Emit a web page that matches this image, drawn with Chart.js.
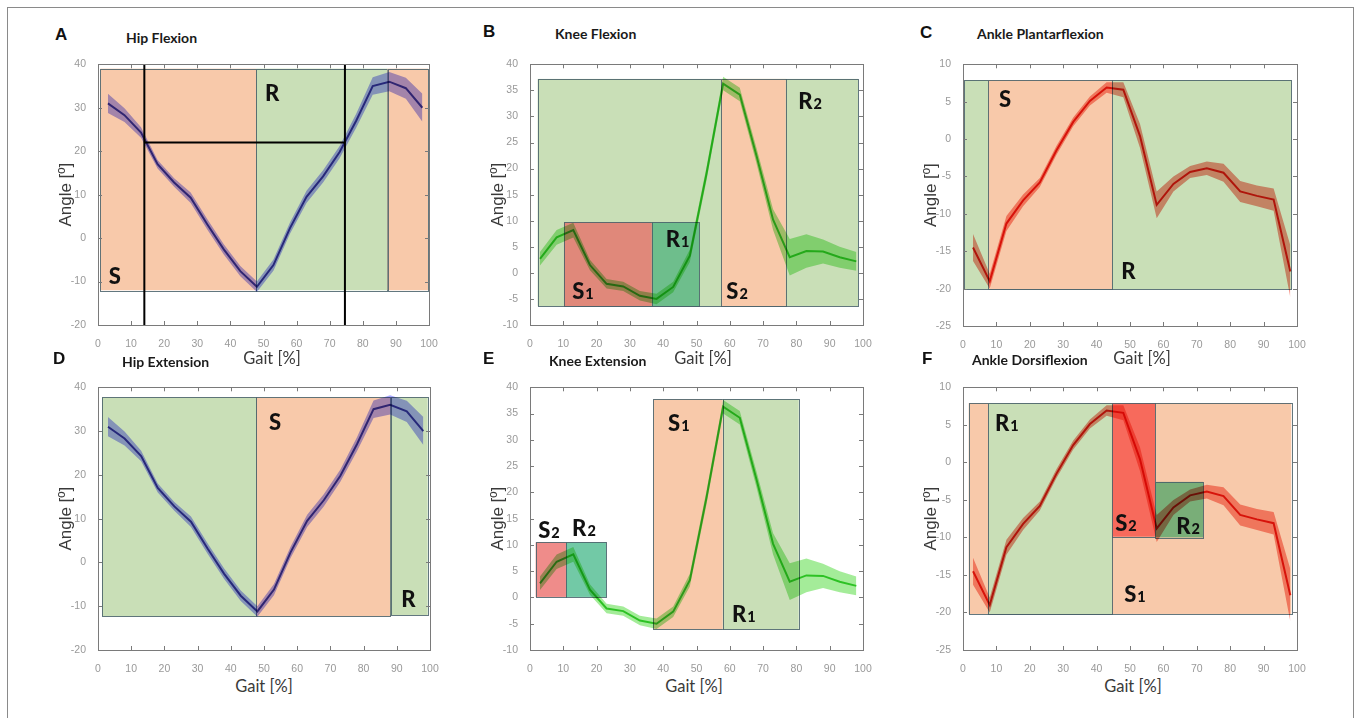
<!DOCTYPE html>
<html>
<head>
<meta charset="utf-8">
<script src="https://cdn.jsdelivr.net/npm/chart.js@4.4.1/dist/chart.umd.min.js"></script>
<style>
  body { margin: 0; background: #fff; width: 1360px; height: 718px; overflow: hidden; position: relative; }
  .frame { position: absolute; left: 7px; top: 7px; width: 1347px; height: 740px; border: 1px solid #8a8a8a; box-sizing: border-box; }
  canvas { position: absolute; }
  .letter { position: absolute; font: bold 17px "Liberation Sans", Arial, sans-serif; color: #111; line-height: 1; }
  .title { position: absolute; font: bold 14px Lato, sans-serif; color: #1a1a1a; line-height: 1; white-space: nowrap; }
  .xlab { position: absolute; font: 16.5px Lato, sans-serif; color: #3a3a3a; line-height: 1; white-space: nowrap; transform: translate(-50%, -50%); }
</style>
</head>
<body>
<div class="frame"></div>
<script>
// gait cycle samples, every 5 %
const gaitPct = [3, 8, 13, 18, 23, 28, 33, 38, 43, 48, 53, 58, 63, 68, 73, 78, 83, 88, 93, 98];

// joint angles (deg), mean and half-width of the shaded band
const hipMean = [31, 28.3, 24.3, 17, 12.8, 9.3, 3.2, -2.6, -7.6, -11.2, -6.2, 2.3, 9.5, 14.2, 19.8, 27, 35, 36, 34.5, 30];
const hipSd = [2.2, 1.6, 1.2, 1, 1, 1.2, 1.2, 1.2, 1.2, 1.2, 1.3, 1.3, 1.4, 1.4, 1.4, 1.6, 2, 2.2, 2.4, 3.2];
const kneeMean = [2.7, 6.8, 8.2, 1.5, -2.1, -2.6, -4.4, -5, -2.7, 3.3, 19, 36.3, 34.2, 22.5, 10.2, 3, 4.2, 4.1, 3, 2.2];
const kneeSd = [1.3, 1.4, 1.4, 1, 0.9, 0.9, 0.9, 1, 1, 1.2, 1.3, 1.3, 1.3, 1.5, 2, 3.5, 3.2, 2.3, 2, 1.8];
const ankleMean = [-14.5, -19, -11.3, -8.2, -5.8, -1.5, 2.3, 5.1, 6.9, 6.6, 0.4, -8.8, -6, -4.4, -3.9, -4.5, -7, -7.6, -8.1, -17.7];
const ankleSd = [1.8, 1, 1, 0.8, 0.6, 0.6, 0.6, 0.6, 0.7, 1, 1.6, 1.8, 1, 0.8, 0.9, 1.2, 1.4, 1.4, 1.5, 3.5];

// axis ranges [min, max, step]
const hipAxis = [-20, 40, 10];
const kneeAxis = [-10, 40, 5];
const ankleAxis = [-25, 10, 5];
const gaitAxis = [0, 100, 10];

// hip flexion timing marks (gait %, angle)
const hipTimingX = [14, 74.6];
const hipTimingY = 22;

// phase regions: [gait from, gait to, angle from, angle to, kind]
const phasesA = [[0.7, 47.8, -12, 39, 'orange'], [47.8, 87.5, -12, 39, 'green'], [87.5, 99.7, -12, 39, 'orange']];
const phasesB = [[2.3, 98.5, -6.4, 37.2, 'green'], [57.4, 76.8, -6.4, 37.2, 'orange'], [10.2, 36.6, -6.4, 9.7, 'red'], [36.6, 50.8, -6.4, 9.7, 'teal']];
const phasesC = [[0.4, 98.3, -20.1, 7.9, 'green'], [7.5, 44.6, -20.1, 7.9, 'orange']];
const phasesD = [[1.2, 47.7, -12.3, 37.7, 'green'], [47.7, 88.2, -12.3, 37.7, 'orange'], [88.2, 99.3, -12, 37.7, 'green']];
const phasesE = [[37, 57.9, -6.1, 37.7, 'orange'], [57.9, 80.7, -6.1, 37.7, 'green'], [1.7, 10.8, 0.1, 10.5, 'pink'], [10.8, 22.9, 0.1, 10.5, 'aqua']];
const phasesF = [[1.7, 98.3, -20.2, 7.9, 'orange'], [7.5, 44.6, -20.2, 7.9, 'green'], [44.6, 57.5, -9.9, 7.9, 'scarlet'], [57.5, 71.9, -10, -2.6, 'moss']];

// phase labels: [letter, index, gait %, angle]
const labelsA = [['S', '', 5.1, -8.8], ['R', '', 52.6, 33.3]];
const labelsB = [['S', '1', 15.9, -3.4], ['R', '1', 44.3, 6.5], ['S', '2', 62.2, -3.4], ['R', '2', 84.1, 33]];
const labelsC = [['S', '', 12.6, 5.3], ['R', '', 49.5, -17.6]];
const labelsD = [['S', '', 53.3, 32.1], ['R', '', 93.5, -8.3]];
const labelsE = [['S', '2', 5.7, 12.9], ['R', '2', 16.2, 13.2], ['S', '1', 44.7, 33.2], ['R', '1', 64.2, -3.1]];
const labelsF = [['R', '1', 13.1, 5.2], ['S', '2', 48.8, -8.1], ['R', '2', 67.4, -8.5], ['S', '1', 51.5, -17.5]];

const FILLS = {
    orange: '#f8c9aa', green: '#c9dfb7', red: '#e0887a', teal: '#6ebe8c',
    pink: '#ef8c8a', aqua: '#72c9a6', scarlet: '#f76a5c', moss: '#79ae78'
};
const JOINTS = {
    hip: { mean: hipMean, sd: hipSd, axis: hipAxis, line: '#4b46aa', band: 'rgba(110,110,255,0.6)' },
    knee: { mean: kneeMean, sd: kneeSd, axis: kneeAxis, line: '#46d23c', band: 'rgba(90,220,70,0.55)' },
    ankle: { mean: ankleMean, sd: ankleSd, axis: ankleAxis, line: '#e6281a', band: 'rgba(240,80,60,0.6)' }
};

// plot area in page pixels [left, top, right, bottom]
const PANELS = [
    { joint: 'hip', box: [98, 62, 429, 325], phases: phasesA, labels: labelsA, timing: true,
      letter: ['A', 55, 26], title: ['Hip Flexion', 126, 30.5], xlab: [272, 358] },
    { joint: 'knee', box: [530, 62, 863, 325], phases: phasesB, labels: labelsB,
      letter: ['B', 483, 23], title: ['Knee Flexion', 555, 27], xlab: [703, 358] },
    { joint: 'ankle', box: [963, 62, 1297, 326], phases: phasesC, labels: labelsC,
      letter: ['C', 920, 24], title: ['Ankle Plantarflexion', 977, 27], xlab: [1142, 358] },
    { joint: 'hip', box: [98, 385, 430, 650], phases: phasesD, labels: labelsD,
      letter: ['D', 53, 350], title: ['Hip Extension', 122, 355], xlab: [264, 686] },
    { joint: 'knee', box: [530, 385, 863, 650], phases: phasesE, labels: labelsE,
      letter: ['E', 483, 350], title: ['Knee Extension', 549, 354], xlab: [694, 686] },
    { joint: 'ankle', box: [963, 385, 1297, 650], phases: phasesF, labels: labelsF,
      letter: ['F', 922, 350], title: ['Ankle Dorsiflexion', 972, 353], xlab: [1133, 686] }
];

const PAD = { left: 45, top: 8, right: 14, bottom: 24 };
const TICK_FONT = { family: '"Liberation Sans", Arial, sans-serif', size: 10.5 };
const TICK_COLOR = '#999999';

function add_text(cls, text, x, y) {
    const el = document.createElement('div');
    el.className = cls;
    el.textContent = text;
    el.style.left = x + 'px';
    el.style.top = y + 'px';
    document.body.appendChild(el);
}

function ribbon(j) {
    const up = gaitPct.map((x, i) => ({ x, y: j.mean[i] + j.sd[i] }));
    const lo = gaitPct.map((x, i) => ({ x, y: j.mean[i] - j.sd[i] }));
    const mid = gaitPct.map((x, i) => ({ x, y: j.mean[i] }));
    return [
        { data: up, borderColor: 'transparent', pointRadius: 0, fill: false, order: 1 },
        { data: lo, borderColor: 'transparent', pointRadius: 0, fill: '-1', backgroundColor: j.band, order: 1 },
        { data: mid, borderColor: j.line, borderWidth: 2, pointRadius: 0, fill: false, order: 0 }
    ];
}

function phase_plugin(panel) {
    return {
        id: 'phases',
        beforeDatasetsDraw(chart) {
            const { ctx, scales: { x, y } } = chart;
            ctx.save();
            panel.phases.forEach(r => {
                const x0 = x.getPixelForValue(r[0]), x1 = x.getPixelForValue(r[1]);
                const y0 = y.getPixelForValue(r[3]), y1 = y.getPixelForValue(r[2]);
                ctx.fillStyle = FILLS[r[4]];
                ctx.fillRect(x0, y0, x1 - x0, y1 - y0);
                ctx.strokeStyle = 'rgba(70,95,105,0.85)';
                ctx.lineWidth = 1;
                ctx.strokeRect(Math.round(x0) + 0.5, Math.round(y0) + 0.5, Math.round(x1 - x0), Math.round(y1 - y0));
            });
            ctx.restore();
            // curves are blended onto the phase colours
            ctx.globalCompositeOperation = 'multiply';
        },
        afterDatasetsDraw(chart) {
            const { ctx, scales: { x, y } } = chart;
            ctx.globalCompositeOperation = 'source-over';
            ctx.save();
            if (panel.timing) {
                ctx.strokeStyle = '#000';
                ctx.lineWidth = 2;
                ctx.beginPath();
                hipTimingX.forEach(t => {
                    ctx.moveTo(x.getPixelForValue(t), y.getPixelForValue(y.max));
                    ctx.lineTo(x.getPixelForValue(t), y.getPixelForValue(y.min));
                });
                ctx.moveTo(x.getPixelForValue(hipTimingX[0]), y.getPixelForValue(hipTimingY));
                ctx.lineTo(x.getPixelForValue(hipTimingX[1]), y.getPixelForValue(hipTimingY));
                ctx.stroke();
            }
            ctx.fillStyle = '#111';
            ctx.textBaseline = 'alphabetic';
            panel.labels.forEach(([main, sub, gx, gy]) => {
                const big = '900 22px Lato, sans-serif', small = '900 14.5px Lato, sans-serif';
                ctx.font = big;
                const w1 = ctx.measureText(main).width;
                ctx.font = small;
                const w2 = sub ? ctx.measureText(sub).width + 1 : 0;
                const cx = x.getPixelForValue(gx) - (w1 + w2) / 2;
                const base = y.getPixelForValue(gy) + 8;
                ctx.font = big;
                ctx.fillText(main, cx, base);
                if (sub) { ctx.font = small; ctx.fillText(sub, cx + w1 + 1, base); }
            });
            ctx.restore();
        },
        afterDraw(chart) {
            const { ctx, chartArea: a, scales: { x, y } } = chart;
            ctx.save();
            ctx.strokeStyle = '#7a7a7a';
            ctx.lineWidth = 1;
            ctx.strokeRect(Math.round(a.left) + 0.5, Math.round(a.top) + 0.5, Math.round(a.right - a.left), Math.round(a.bottom - a.top));
            ctx.beginPath();
            x.ticks.forEach(t => {
                if (t.value <= x.min || t.value >= x.max) return;
                const px = Math.round(x.getPixelForValue(t.value)) + 0.5;
                ctx.moveTo(px, a.bottom); ctx.lineTo(px, a.bottom - 4);
                ctx.moveTo(px, a.top); ctx.lineTo(px, a.top + 4);
            });
            y.ticks.forEach(t => {
                if (t.value <= y.min || t.value >= y.max) return;
                const py = Math.round(y.getPixelForValue(t.value)) + 0.5;
                ctx.moveTo(a.left, py); ctx.lineTo(a.left + 4, py);
                ctx.moveTo(a.right, py); ctx.lineTo(a.right - 4, py);
            });
            ctx.stroke();
            ctx.restore();
        }
    };
}

function render_panel(panel) {
    const joint = JOINTS[panel.joint];
    const [L, T, R, B] = panel.box;
    const canvas = document.createElement('canvas');
    canvas.width = (R - L) + PAD.left + PAD.right;
    canvas.height = (B - T) + PAD.top + PAD.bottom;
    canvas.style.left = (L - PAD.left) + 'px';
    canvas.style.top = (T - PAD.top) + 'px';
    document.body.appendChild(canvas);

    new Chart(canvas.getContext('2d'), {
        type: 'line',
        data: { datasets: ribbon(joint) },
        options: {
            responsive: false, animation: false, devicePixelRatio: 1, events: [],
            layout: { padding: { left: 0, top: PAD.top, right: PAD.right, bottom: 0 } },
            plugins: { legend: { display: false }, tooltip: { enabled: false } },
            scales: {
                x: {
                    type: 'linear', min: gaitAxis[0], max: gaitAxis[1],
                    ticks: { stepSize: gaitAxis[2], padding: 5, font: TICK_FONT, color: TICK_COLOR, maxRotation: 0 },
                    grid: { display: false }, border: { display: false },
                    afterFit: s => { s.height = PAD.bottom; }
                },
                y: {
                    type: 'linear', min: joint.axis[0], max: joint.axis[1],
                    ticks: { stepSize: joint.axis[2], padding: 4, font: TICK_FONT, color: TICK_COLOR },
                    grid: { display: false }, border: { display: false },
                    title: { display: true, text: 'Angle [º]', color: '#3a3a3a', padding: { top: 3, bottom: 0 },
                             font: { family: '"Liberation Sans", Arial, sans-serif', size: 17 } },
                    afterFit: s => { s.width = PAD.left; }
                }
            }
        },
        plugins: [phase_plugin(panel)]
    });

    add_text('letter', panel.letter[0], panel.letter[1], panel.letter[2]);
    add_text('title', panel.title[0], panel.title[1], panel.title[2]);
    add_text('xlab', 'Gait [%]', panel.xlab[0], panel.xlab[1]);
}

PANELS.forEach(render_panel);
</script>
</body>
</html>
